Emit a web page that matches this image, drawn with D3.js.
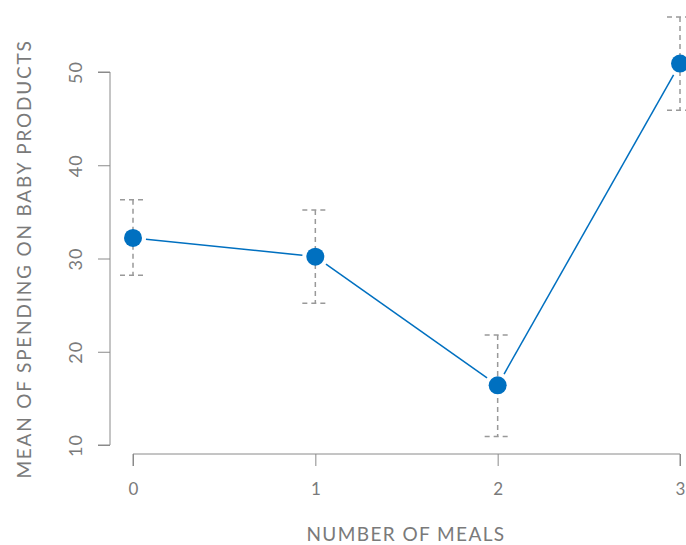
<!DOCTYPE html>
<html><head><meta charset="utf-8">
<script src="https://cdn.jsdelivr.net/npm/d3@7"></script>
<style>html,body{margin:0;padding:0;background:#fff;}svg{display:block;}</style>
</head><body>
<script>
const meals = [0, 1, 2, 3];
const means = [32.2, 30.2, 16.4, 50.9];
const upper = [36.3, 35.2, 21.8, 55.9];
const lower = [28.2, 25.2, 10.9, 45.9];
const yTicks = [10, 20, 30, 40, 50];
const xTicks = [0, 1, 2, 3];

const W = 686, H = 545;
const svg = d3.select("body").append("svg").attr("width", W).attr("height", H);
const x = d3.scaleLinear().domain([0, 3]).range([133, 680]);
const y = d3.scaleLinear().domain([10, 50]).range([445, 72]);
const grey = "#8a8a8a", txt = "#7a7a7a", blue = "#0070C0";
const font = "Lato, 'Open Sans', sans-serif";

// Y axis
const ya = svg.append("g").attr("transform", "translate(110,0)")
  .call(d3.axisLeft(y).tickValues(yTicks).tickSize(12).tickPadding(14).tickFormat(d3.format("d")));
ya.select(".domain").attr("stroke", grey).attr("d", `M-12,${y(10)}H0V${y(50)}H-12`);
ya.selectAll(".tick line").attr("stroke", grey);
ya.selectAll(".tick text").attr("fill", txt).style("font-family", font).style("font-size", "18px")
  .style("letter-spacing", "1px")
  .attr("transform", "rotate(-90)").attr("x", 0).attr("y", -28).attr("dy", "0").attr("text-anchor", "middle");

// X axis
const xa = svg.append("g").attr("transform", "translate(0,454)")
  .call(d3.axisBottom(x).tickValues(xTicks).tickSize(12).tickPadding(17).tickFormat(d3.format("d")));
xa.select(".domain").attr("stroke", grey).attr("d", `M${x(0)},12V0H${x(3)}V12`);
xa.selectAll(".tick line").attr("stroke", grey);
xa.selectAll(".tick text").attr("fill", txt).style("font-family", font).style("font-size", "17px");

// Titles
svg.append("text").attr("x", 406).attr("y", 541)
  .attr("text-anchor", "middle").attr("fill", txt).style("font-family", font).style("font-size", "19px")
  .style("letter-spacing", "1.4px")
  .text("NUMBER OF MEALS");
svg.append("text").attr("transform", `translate(31,259) rotate(-90)`)
  .attr("text-anchor", "middle").attr("fill", txt).style("font-family", font).style("font-size", "19px")
  .style("letter-spacing", "1.8px")
  .text("MEAN OF SPENDING ON BABY PRODUCTS");

const data = meals.map((m, i) => ({m, v: means[i], hi: upper[i], lo: lower[i]}));

// Error bars
const eb = svg.append("g").attr("stroke", "#999").attr("stroke-width", 1.5).attr("stroke-dasharray", "5,4").attr("fill", "none");
data.forEach(d => {
  eb.append("line").attr("x1", x(d.m)).attr("x2", x(d.m)).attr("y1", y(d.hi)).attr("y2", y(d.lo));
  eb.append("line").attr("x1", x(d.m)-13).attr("x2", x(d.m)+13).attr("y1", y(d.hi)).attr("y2", y(d.hi));
  eb.append("line").attr("x1", x(d.m)-13).attr("x2", x(d.m)+13).attr("y1", y(d.lo)).attr("y2", y(d.lo));
});

// Line segments with gaps (type "b")
const gap = 13;
for (let i = 0; i < data.length - 1; i++) {
  const x1 = x(data[i].m), y1 = y(data[i].v), x2 = x(data[i+1].m), y2 = y(data[i+1].v);
  const dx = x2 - x1, dy = y2 - y1, L = Math.hypot(dx, dy);
  const ux = dx / L, uy = dy / L;
  svg.append("line").attr("x1", x1 + ux*gap).attr("y1", y1 + uy*gap)
    .attr("x2", x2 - ux*gap).attr("y2", y2 - uy*gap)
    .attr("stroke", blue).attr("stroke-width", 1.5);
}

// Points
svg.selectAll("circle.pt").data(data).enter().append("circle").attr("class", "pt")
  .attr("cx", d => x(d.m)).attr("cy", d => y(d.v)).attr("r", 9).attr("fill", blue);
</script>
</body></html>
